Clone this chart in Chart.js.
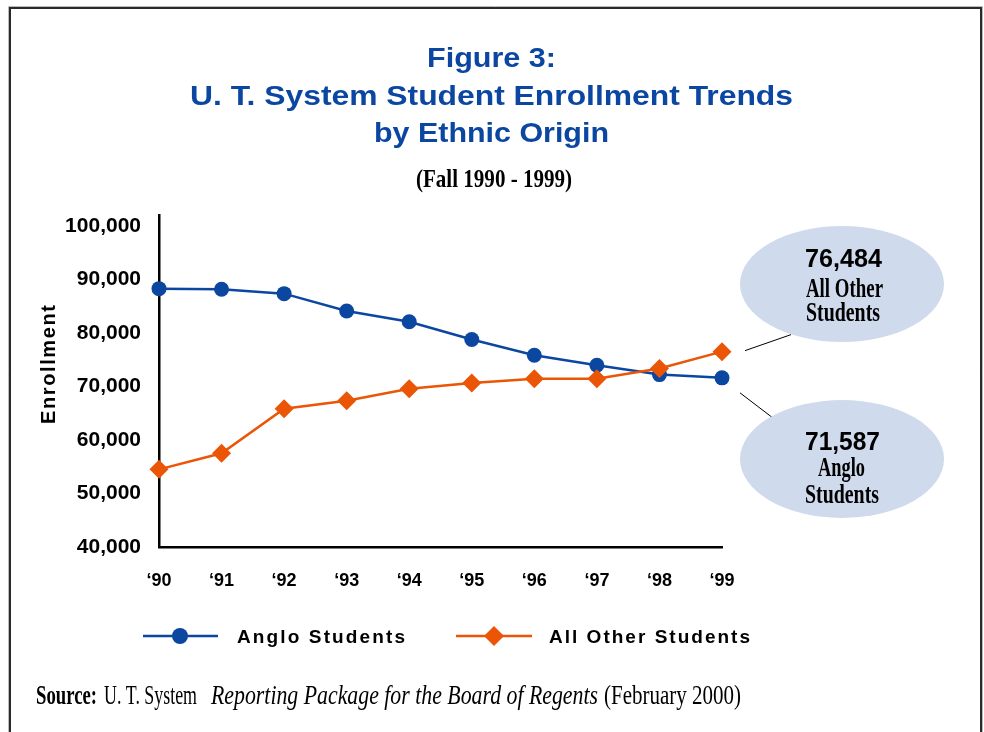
<!DOCTYPE html>
<html>
<head>
<meta charset="utf-8">
<script src="https://cdn.jsdelivr.net/npm/chart.js@4.4.1/dist/chart.umd.min.js"></script>
<style>
  html, body { margin: 0; padding: 0; background: #fff; }
  #wrap { width: 984px; height: 732px; position: relative; }
</style>
</head>
<body>
<div id="wrap"><canvas id="enrollChart" width="984" height="732"></canvas></div>
<script>
// --- Datos ---
const years = ['\u201890', '\u201891', '\u201892', '\u201893', '\u201894', '\u201895', '\u201896', '\u201897', '\u201898', '\u201899'];
const angloStudents = [88250, 88130, 87310, 84070, 82060, 78760, 75810, 73940, 72200, 71587];
const otherStudents = [54500, 57500, 65820, 67320, 69570, 70620, 71440, 71440, 73320, 76484];
const yTickValues = [40000, 50000, 60000, 70000, 80000, 90000, 100000];

const BLUE = '#0b47a1';
const ORANGE = '#ea5506';
const BUBBLE = '#cfdaec';
const SANS = '"Liberation Sans", Arial, sans-serif';
const SERIF = '"Liberation Serif", "Times New Roman", serif';

// texto ajustado a un ancho (condensado horizontal)
function drawFit(ctx, text, left, baseline, width, font, color) {
    ctx.save();
    ctx.font = font;
    ctx.fillStyle = color;
    ctx.textAlign = 'left';
    ctx.textBaseline = 'alphabetic';
    const w = ctx.measureText(text).width;
    ctx.translate(left, baseline);
    ctx.scale(width / w, 1);
    ctx.fillText(text, 0, 0);
    ctx.restore();
}

// texto con espaciado entre letras para llegar al ancho
function drawSpaced(ctx, text, left, baseline, width, font, color) {
    ctx.save();
    ctx.font = font;
    ctx.fillStyle = color;
    ctx.textAlign = 'left';
    ctx.textBaseline = 'alphabetic';
    const w = ctx.measureText(text).width;
    const ls = (width - w) / Math.max(text.length - 1, 1);
    let x = left;
    for (const ch of text) {
        ctx.fillText(ch, x, baseline);
        x += ctx.measureText(ch).width + ls;
    }
    ctx.restore();
}

function drawCircle(ctx, x, y, r, color) {
    ctx.beginPath();
    ctx.arc(x, y, r, 0, Math.PI * 2);
    ctx.fillStyle = color;
    ctx.fill();
}

function drawDiamond(ctx, x, y, r, color) {
    ctx.beginPath();
    ctx.moveTo(x, y - r);
    ctx.lineTo(x + r, y);
    ctx.lineTo(x, y + r);
    ctx.lineTo(x - r, y);
    ctx.closePath();
    ctx.fillStyle = color;
    ctx.fill();
}

const decorPlugin = {
    id: 'decor',
    afterDraw(chart) {
        const ctx = chart.ctx;
        const xs = chart.scales.x, ys = chart.scales.y;

        // marco
        ctx.save();
        ctx.strokeStyle = '#bbb';
        ctx.lineWidth = 1;
        ctx.beginPath();
        ctx.moveTo(8.5, 732); ctx.lineTo(8.5, 6.5); ctx.lineTo(982.5, 6.5); ctx.lineTo(982.5, 732);
        ctx.stroke();
        ctx.strokeStyle = '#2a2a2a';
        ctx.lineWidth = 2;
        ctx.beginPath();
        ctx.moveTo(10, 732); ctx.lineTo(10, 8); ctx.lineTo(981, 8); ctx.lineTo(981, 732);
        ctx.stroke();
        ctx.restore();

        // titulo
        const tFont = 'bold 28px ' + SANS;
        drawFit(ctx, 'Figure 3:', 427, 67, 129, tFont, BLUE);
        drawFit(ctx, 'U. T. System Student Enrollment Trends', 190, 105, 603, tFont, BLUE);
        drawFit(ctx, 'by Ethnic Origin', 374, 142, 235, tFont, BLUE);
        drawFit(ctx, '(Fall 1990 - 1999)', 416, 187, 156, 'bold 26px ' + SERIF, '#000');

        // titulo eje y
        ctx.save();
        ctx.translate(55, 424);
        ctx.rotate(-Math.PI / 2);
        drawSpaced(ctx, 'Enrollment', 0, 0, 119, 'bold 20px ' + SANS, '#000');
        ctx.restore();

        // leyenda
        ctx.save();
        ctx.lineWidth = 2.5;
        ctx.strokeStyle = BLUE;
        ctx.beginPath(); ctx.moveTo(143, 636); ctx.lineTo(218, 636); ctx.stroke();
        drawCircle(ctx, 180, 636, 8, BLUE);
        ctx.strokeStyle = ORANGE;
        ctx.beginPath(); ctx.moveTo(456, 636); ctx.lineTo(532, 636); ctx.stroke();
        drawDiamond(ctx, 494, 636, 10, ORANGE);
        ctx.restore();
        drawSpaced(ctx, 'Anglo Students', 237, 643, 168, 'bold 19px ' + SANS, '#000');
        drawSpaced(ctx, 'All Other Students', 549, 643, 201, 'bold 19px ' + SANS, '#000');

        // globos con los valores de 1999
        const last = years.length - 1;
        const lx = xs.getPixelForValue(last);
        const yOther = ys.getPixelForValue(otherStudents[last]);
        const yAnglo = ys.getPixelForValue(angloStudents[last]);

        ctx.save();
        ctx.strokeStyle = '#000';
        ctx.lineWidth = 1;
        ctx.beginPath();
        ctx.moveTo(lx + 23, yOther - 1); ctx.lineTo(lx + 69, yOther - 17);
        ctx.moveTo(lx + 18, yAnglo + 15); ctx.lineTo(lx + 56, yAnglo + 44);
        ctx.stroke();
        ctx.fillStyle = BUBBLE;
        ctx.beginPath(); ctx.ellipse(842, 284, 102, 58, 0, 0, Math.PI * 2); ctx.fill();
        ctx.beginPath(); ctx.ellipse(842, 459, 102, 59, 0, 0, Math.PI * 2); ctx.fill();
        ctx.restore();

        const fmt = v => v.toLocaleString('en-US');
        drawFit(ctx, fmt(otherStudents[last]), 805, 267, 77, 'bold 25px ' + SANS, '#000');
        drawFit(ctx, 'All Other', 806, 297, 77, 'bold 27px ' + SERIF, '#000');
        drawFit(ctx, 'Students', 806, 321, 74, 'bold 27px ' + SERIF, '#000');
        drawFit(ctx, fmt(angloStudents[last]), 805, 450, 75, 'bold 25px ' + SANS, '#000');
        drawFit(ctx, 'Anglo', 818, 476, 47, 'bold 27px ' + SERIF, '#000');
        drawFit(ctx, 'Students', 805, 503, 74, 'bold 27px ' + SERIF, '#000');

        // fuente
        drawFit(ctx, 'Source:', 36, 704, 61, 'bold 28px ' + SERIF, '#000');
        drawFit(ctx, 'U. T. System', 104, 704, 93, '28px ' + SERIF, '#000');
        drawFit(ctx, 'Reporting Package for the Board of Regents', 211, 704, 387, 'italic 28px ' + SERIF, '#000');
        drawFit(ctx, '(February 2000)', 604, 704, 137, '28px ' + SERIF, '#000');
    }
};

const enrollChart = new Chart(document.getElementById('enrollChart').getContext('2d'), {
    type: 'line',
    data: {
        labels: years,
        datasets: [
            {
                label: 'Anglo Students', data: angloStudents, order: 2,
                borderColor: BLUE, backgroundColor: BLUE, borderWidth: 2.5,
                pointStyle: 'circle', pointRadius: 7.5, pointHoverRadius: 7.5,
                pointBorderWidth: 0, tension: 0, clip: false
            },
            {
                label: 'All Other Students', data: otherStudents, order: 1,
                borderColor: ORANGE, backgroundColor: ORANGE, borderWidth: 2.5,
                pointStyle: 'rectRot', pointRadius: 9.5, pointHoverRadius: 9.5,
                pointBorderWidth: 0, tension: 0, clip: false
            }
        ]
    },
    options: {
        responsive: false,
        animation: false,
        events: [],
        layout: { padding: { top: 215, right: 262, left: 0, bottom: 0 } },
        plugins: { legend: { display: false }, tooltip: { enabled: false }, title: { display: false } },
        scales: {
            x: {
                offset: false,
                grid: { display: false, drawTicks: false },
                border: { display: true, color: '#000', width: 2.5 },
                ticks: { color: '#000', font: { family: SANS, size: 18, weight: 'bold' }, padding: 23, maxRotation: 0, autoSkip: false },
                afterFit: s => { s.height = 185; }
            },
            y: {
                min: 40000, max: 102000,
                grid: { display: false, drawTicks: false },
                border: { display: true, color: '#000', width: 2.5 },
                afterBuildTicks: s => { s.ticks = yTickValues.map(v => ({ value: v })); },
                ticks: { color: '#000', font: { family: SANS, size: 21, weight: 'bold' }, padding: 18,
                         callback: v => v.toLocaleString('en-US') },
                afterFit: s => { s.width = 159; }
            }
        }
    },
    plugins: [decorPlugin]
});
</script>
</body>
</html>
